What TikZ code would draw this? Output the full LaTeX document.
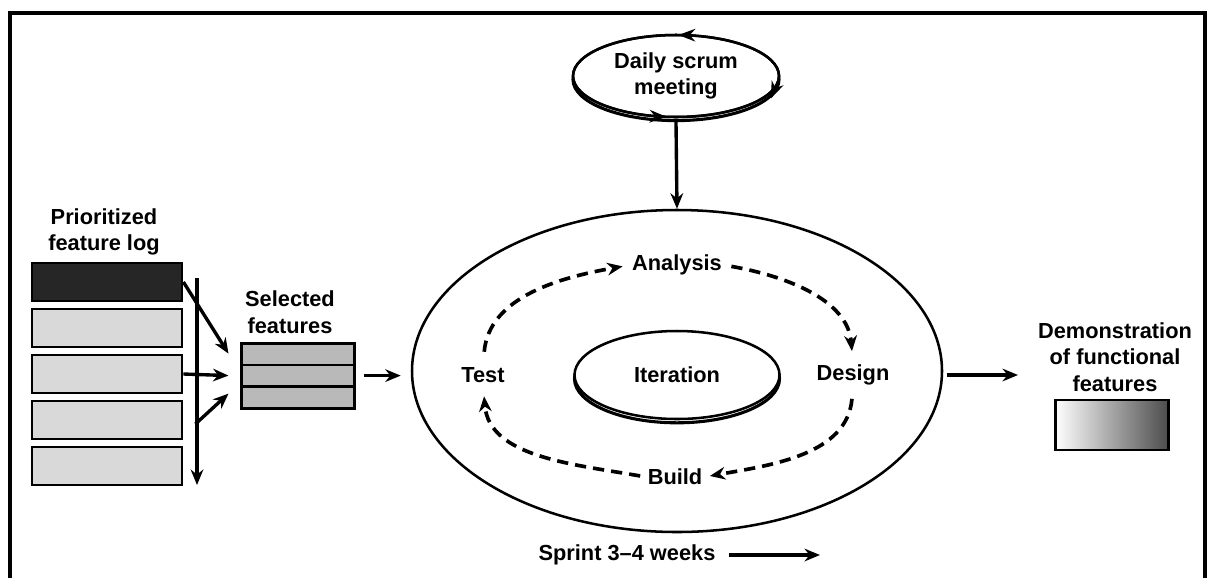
\documentclass[tikz,border=0pt]{standalone}
\usepackage{fontspec}
\setmainfont{Liberation Sans}
\usetikzlibrary{calc}
\usetikzlibrary{positioning}
\usetikzlibrary{arrows.meta}
\usetikzlibrary{shapes.geometric}
\usetikzlibrary{decorations.markings}
\tikzset{
  labelText/.style={%
    font=\fontsize{15.5}{19}\selectfont\bfseries, align=center, inner sep=1pt,
  },
  featureBox/.style={%
    rectangle, draw, line width=2pt, fill=gray!30, minimum width=3.75cm, minimum height=0.95cm,
  },
  stripeBox/.style={%
    rectangle, draw, line width=1.6pt, fill=gray!55, minimum width=2.825cm, minimum height=0.54cm,
  },
  flowArrow/.style={%
    -{Stealth[length=11pt,width=9pt]}, line width=2.4pt,
  },
  cycleArrow/.style={%
    -{Stealth[length=11pt,width=9pt]}, line width=2.6pt, dash pattern=on 8pt off 5pt,
  },
  flatEllipse/.style={%
    ellipse, draw, line width=1.8pt, fill=white, inner sep=0pt,
  }
}

\begin{document}
\begin{tikzpicture}
  \useasboundingbox (0,0) rectangle (30.2,-14.45);
  \draw[line width=2.6pt] (0.25,-14.45) -- (0.25,-0.33) -- (30.12,-0.33) -- (30.12,-14.45);

  \node[flatEllipse,minimum width=13.25cm,minimum height=8.05cm,fill=none] (sprint) at (16.925,-9.275) {};

  \node[flatEllipse,minimum width=5.15cm,minimum height=2.05cm,line width=2.2pt] (scrumRim) at (16.9,-1.99) {};
  \node[flatEllipse,minimum width=5.15cm,minimum height=2.05cm] (scrum) at (16.9,-1.9) {};
  \draw[line width=1.8pt,decoration={markings,
      mark=at position 0.245 with {\arrow{Stealth[length=12pt,width=9pt]}},
      mark=at position 0.73 with {\arrow{Stealth[length=12pt,width=9pt]}},
      mark=at position 0.985 with {\arrow{Stealth[length=12pt,width=9pt,reversed]}}},
      postaction={decorate}] (scrum.center) ellipse [x radius=2.575cm, y radius=1.025cm];
  \node[labelText] at (scrum) {Daily scrum\\meeting};

  \node[flatEllipse,minimum width=5.125cm,minimum height=2.2cm,line width=2.2pt] (iterRim) at (16.925,-9.47) {};
  \node[flatEllipse,labelText,minimum width=5.125cm,minimum height=2.2cm] (iteration) at (16.925,-9.375) {Iteration};

  \node[labelText] (analysis) at (16.925,-6.625) {Analysis};
  \node[labelText] (design) at (21.325,-9.375) {Design};
  \node[labelText] (build) at (16.875,-11.925) {Build};
  \node[labelText] (test) at (12.075,-9.375) {Test};

  \draw[cycleArrow,shorten <=0.35cm,shorten >=0.2cm] (test.north) to[out=85,in=190] (analysis.west);
  \draw[cycleArrow,shorten <=0.2cm,shorten >=0.3cm] (analysis.east) to[out=-10,in=95] (design.north);
  \draw[cycleArrow,shorten <=0.3cm,shorten >=0.15cm] (design.south) to[out=-95,in=10] (build.east);
  \draw[cycleArrow,shorten <=0.15cm,shorten >=0.3cm] (build.west) to[out=170,in=-85] (test.south);

  \draw[flowArrow] (scrumRim.south) -- (sprint.north);

  \node[labelText] (logTitle) at (2.6,-5.8) {Prioritized\\feature log};
  \node[featureBox,fill=black!85] (feat1) at (2.675,-7.05) {};
  \foreach \i in {2,...,5}
  {
    \node[featureBox] (feat\i) at (2.675,{-7.05-1.15*(\i-1)}) {};
  }
  \coordinate (logTop) at (4.925,-6.95);
  \coordinate (logEnd) at (4.925,-12.125);
  \draw[flowArrow] (logTop) -- (logEnd);

  \node[labelText] (selTitle) at (7.25,-7.8) {Selected\\features};
  \foreach \j in {1,2,3}
  {
    \node[stripeBox] (sel\j) at (7.46,{-8.846-0.542*(\j-1)}) {};
  }
  \node[draw,line width=2pt,minimum width=2.825cm,minimum height=1.625cm] (sel) at (7.46,-9.39) {};

  \draw[flowArrow] (feat1.east) -- ([xshift=-0.3cm,yshift=0.55cm]sel.west);
  \draw[flowArrow] (feat3.east) -- ([xshift=-0.3cm]sel.west);
  \draw[flowArrow] ([xshift=0.3cm,yshift=-0.1cm]feat4.east) -- ([xshift=-0.3cm,yshift=-0.45cm]sel.west);
  \draw[flowArrow,shorten <=0.2cm,shorten >=0.25cm] (sel.east) -- (sel.east -| sprint.west);

  \node[labelText] (demoTitle) at (27.875,-8.925) {Demonstration\\of functional\\features};
  \node[draw,line width=2pt,minimum width=2.825cm,minimum height=1.25cm,left color=white,right color=black!70] (demo) at (27.79,-10.625) {};
  \coordinate (demoIn) at (25.45,-9.375);
  \draw[flowArrow,shorten <=0.1cm] (sprint.east |- demoIn) -- (demoIn);

  \node[labelText] (sprintText) at (15.675,-13.875) {Sprint 3–4 weeks};
  \coordinate (sprintEnd) at (20.5,-13.875);
  \draw[flowArrow,shorten <=0.3cm] (sprintText.east) -- (sprintEnd);
\end{tikzpicture}
\end{document}
